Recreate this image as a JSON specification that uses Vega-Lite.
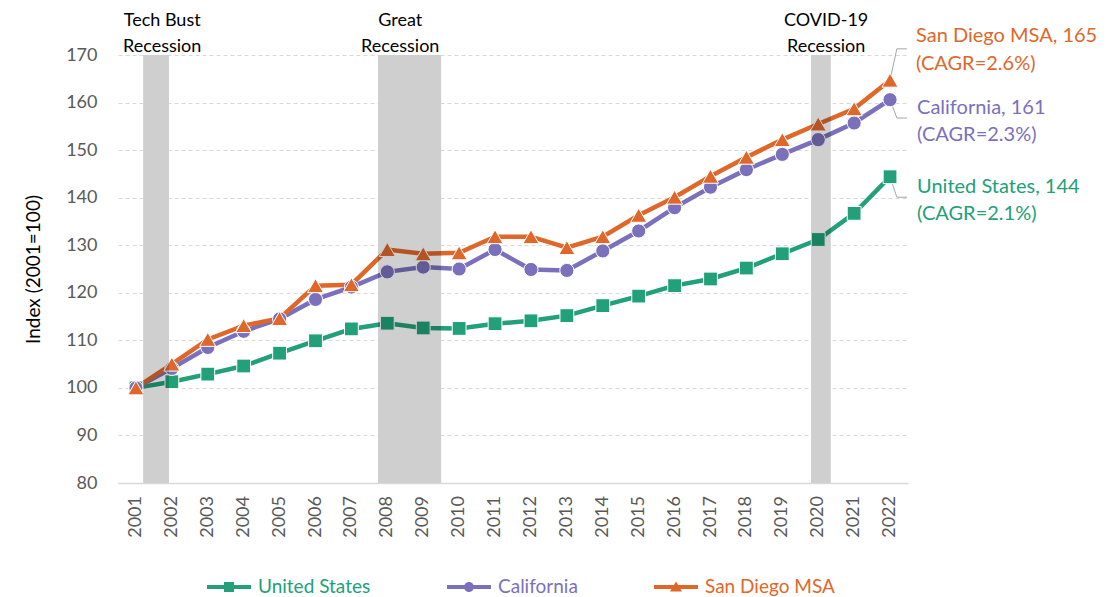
{
  "$schema": "https://vega.github.io/schema/vega-lite/v6.json",
  "width": 790,
  "height": 428,
  "autosize": {"type": "none"},
  "padding": {"left": 118, "top": 55, "right": 199, "bottom": 114},
  "background": "white",
  "config": {
    "font": "Lato",
    "view": {"stroke": null},
    "axis": {"labelFont": "Lato", "titleFont": "Lato"}
  },
  "datasets": {
    "series": [
      {"year": 2001, "region": "United States", "value": 100},
      {"year": 2002, "region": "United States", "value": 101.3},
      {"year": 2003, "region": "United States", "value": 102.9},
      {"year": 2004, "region": "United States", "value": 104.6},
      {"year": 2005, "region": "United States", "value": 107.3},
      {"year": 2006, "region": "United States", "value": 109.9},
      {"year": 2007, "region": "United States", "value": 112.4},
      {"year": 2008, "region": "United States", "value": 113.6},
      {"year": 2009, "region": "United States", "value": 112.6},
      {"year": 2010, "region": "United States", "value": 112.5},
      {"year": 2011, "region": "United States", "value": 113.5},
      {"year": 2012, "region": "United States", "value": 114.1},
      {"year": 2013, "region": "United States", "value": 115.2},
      {"year": 2014, "region": "United States", "value": 117.3},
      {"year": 2015, "region": "United States", "value": 119.3},
      {"year": 2016, "region": "United States", "value": 121.5},
      {"year": 2017, "region": "United States", "value": 122.9},
      {"year": 2018, "region": "United States", "value": 125.2},
      {"year": 2019, "region": "United States", "value": 128.2},
      {"year": 2020, "region": "United States", "value": 131.2},
      {"year": 2021, "region": "United States", "value": 136.7},
      {"year": 2022, "region": "United States", "value": 144.4},
      {"year": 2001, "region": "California", "value": 100},
      {"year": 2002, "region": "California", "value": 104.1},
      {"year": 2003, "region": "California", "value": 108.5},
      {"year": 2004, "region": "California", "value": 111.9},
      {"year": 2005, "region": "California", "value": 114.5},
      {"year": 2006, "region": "California", "value": 118.6},
      {"year": 2007, "region": "California", "value": 121.2},
      {"year": 2008, "region": "California", "value": 124.4},
      {"year": 2009, "region": "California", "value": 125.4},
      {"year": 2010, "region": "California", "value": 125.0},
      {"year": 2011, "region": "California", "value": 129.1},
      {"year": 2012, "region": "California", "value": 124.9},
      {"year": 2013, "region": "California", "value": 124.7},
      {"year": 2014, "region": "California", "value": 128.8},
      {"year": 2015, "region": "California", "value": 133.0},
      {"year": 2016, "region": "California", "value": 137.9},
      {"year": 2017, "region": "California", "value": 142.2},
      {"year": 2018, "region": "California", "value": 145.9},
      {"year": 2019, "region": "California", "value": 149.1},
      {"year": 2020, "region": "California", "value": 152.2},
      {"year": 2021, "region": "California", "value": 155.7},
      {"year": 2022, "region": "California", "value": 160.6},
      {"year": 2001, "region": "San Diego MSA", "value": 100},
      {"year": 2002, "region": "San Diego MSA", "value": 105.0},
      {"year": 2003, "region": "San Diego MSA", "value": 110.2},
      {"year": 2004, "region": "San Diego MSA", "value": 113.1},
      {"year": 2005, "region": "San Diego MSA", "value": 114.6},
      {"year": 2006, "region": "San Diego MSA", "value": 121.5},
      {"year": 2007, "region": "San Diego MSA", "value": 121.7},
      {"year": 2008, "region": "San Diego MSA", "value": 129.1},
      {"year": 2009, "region": "San Diego MSA", "value": 128.2},
      {"year": 2010, "region": "San Diego MSA", "value": 128.4},
      {"year": 2011, "region": "San Diego MSA", "value": 131.8},
      {"year": 2012, "region": "San Diego MSA", "value": 131.8},
      {"year": 2013, "region": "San Diego MSA", "value": 129.5},
      {"year": 2014, "region": "San Diego MSA", "value": 131.8},
      {"year": 2015, "region": "San Diego MSA", "value": 136.3},
      {"year": 2016, "region": "San Diego MSA", "value": 140.1},
      {"year": 2017, "region": "San Diego MSA", "value": 144.5},
      {"year": 2018, "region": "San Diego MSA", "value": 148.5},
      {"year": 2019, "region": "San Diego MSA", "value": 152.2},
      {"year": 2020, "region": "San Diego MSA", "value": 155.5},
      {"year": 2021, "region": "San Diego MSA", "value": 158.7},
      {"year": 2022, "region": "San Diego MSA", "value": 164.7}
    ],
    "recessions": [
      {"name": "Tech Bust", "start": 2001.2, "end": 2001.92, "labelYear": 2001.73, "line1": "Tech Bust", "line2": "Recession"},
      {"name": "Great", "start": 2007.74, "end": 2009.5, "labelYear": 2008.36, "line1": "Great", "line2": "Recession"},
      {"name": "COVID-19", "start": 2019.8, "end": 2020.35, "labelYear": 2020.22, "line1": "COVID-19", "line2": "Recession"}
    ],
    "cagr": [
      {"region": "United States", "cagr": 2.1},
      {"region": "California", "cagr": 2.3},
      {"region": "San Diego MSA", "cagr": 2.6}
    ]
  },
  "layer": [
    {
      "data": {"name": "recessions"},
      "mark": {"type": "rect", "color": "white"},
      "encoding": {
        "x": {"field": "start", "type": "quantitative", "scale": {"domain": [2000.5, 2022.5], "nice": false, "zero": false},
          "axis": {"labels": false, "ticks": false, "grid": false, "domainColor": "#d9d9d9", "domainWidth": 1.5, "title": null}},
        "x2": {"field": "end"},
        "y": {"datum": 80, "type": "quantitative", "scale": {"domain": [80, 170], "nice": false, "zero": false},
          "axis": {"values": [80,90,100,110,120,130,140,150,160,170], "labelFontSize": 18, "labelColor": "#595959", "ticks": false,
            "labelPadding": 21, "domain": false, "grid": true, "gridColor": "#d9d9d9", "gridDash": [4, 3], "gridWidth": 1,
            "title": "Index (2001=100)", "titleFontSize": 19, "titleFontWeight": "normal", "titleColor": "#000000", "titlePadding": 22}},
        "y2": {"datum": 170}
      }
    },
    {
      "data": {"name": "series"},
      "transform": [{"filter": "datum.region === 'United States'"}],
      "mark": {"type": "text", "font": "Lato", "fontSize": 18, "color": "#595959", "angle": 270, "align": "right", "baseline": "middle", "dx": -13},
      "encoding": {
        "x": {"field": "year", "type": "quantitative"},
        "y": {"datum": 80, "type": "quantitative"},
        "text": {"field": "year", "type": "quantitative", "format": "d"}
      }
    },
    {
      "data": {"name": "series"},
      "transform": [{"filter": "datum.year === 2022"}],
      "layer": [
        {"mark": {"type": "rule", "color": "#a6a6a6", "strokeWidth": 1},
         "transform": [{"filter": "datum.region === 'San Diego MSA'"}],
         "encoding": {"x": {"field": "year", "type": "quantitative"}, "y": {"field": "value", "type": "quantitative"},
                      "x2": {"datum": 2022.19}, "y2": {"datum": 171.3}}},
        {"mark": {"type": "rule", "color": "#a6a6a6", "strokeWidth": 1},
         "transform": [{"filter": "datum.region === 'San Diego MSA'"}],
         "encoding": {"x": {"datum": 2022.19, "type": "quantitative"}, "y": {"datum": 171.3, "type": "quantitative"},
                      "x2": {"datum": 2022.47}, "y2": {"datum": 171.3}}},
        {"mark": {"type": "rule", "color": "#a6a6a6", "strokeWidth": 1},
         "transform": [{"filter": "datum.region === 'California'"}],
         "encoding": {"x": {"field": "year", "type": "quantitative"}, "y": {"field": "value", "type": "quantitative"},
                      "x2": {"datum": 2022.19}, "y2": {"datum": 156.75}}},
        {"mark": {"type": "rule", "color": "#a6a6a6", "strokeWidth": 1},
         "transform": [{"filter": "datum.region === 'California'"}],
         "encoding": {"x": {"datum": 2022.19, "type": "quantitative"}, "y": {"datum": 156.75, "type": "quantitative"},
                      "x2": {"datum": 2022.47}, "y2": {"datum": 156.75}}},
        {"mark": {"type": "rule", "color": "#a6a6a6", "strokeWidth": 1},
         "transform": [{"filter": "datum.region === 'United States'"}],
         "encoding": {"x": {"field": "year", "type": "quantitative"}, "y": {"field": "value", "type": "quantitative"},
                      "x2": {"datum": 2022.19}, "y2": {"datum": 140.1}}},
        {"mark": {"type": "rule", "color": "#a6a6a6", "strokeWidth": 1},
         "transform": [{"filter": "datum.region === 'United States'"}],
         "encoding": {"x": {"datum": 2022.19, "type": "quantitative"}, "y": {"datum": 140.1, "type": "quantitative"},
                      "x2": {"datum": 2022.47}, "y2": {"datum": 140.1}}}
      ]
    },
    {
      "data": {"name": "series"},
      "mark": {"type": "line", "strokeWidth": 4.5},
      "encoding": {
        "x": {"field": "year", "type": "quantitative"},
        "y": {"field": "value", "type": "quantitative"},
        "color": {"field": "region", "type": "nominal",
          "scale": {"domain": ["United States", "California", "San Diego MSA"], "range": ["#22a078", "#7b70bb", "#e0672a"]},
          "legend": {"orient": "none", "legendX": 101, "legendY": 522, "direction": "horizontal", "title": null,
            "symbolSize": 400, "labelFontSize": 19, "labelFont": "Lato", "labelOffset": 19, "columnPadding": 76,
            "symbolStrokeWidth": 0,
            "encode": {
              "symbols": {"update": {
                "fill": {"scale": "color", "field": "value"},
                "stroke": {"value": "transparent"},
                "strokeWidth": {"value": 0},
                "shape": {"signal": "datum.value === 'United States' ? 'M-2.2,-0.2H2.2V0.2H-2.2Z M-0.5,-0.5H0.5V0.5H-0.5Z' : datum.value === 'California' ? 'M-2.2,-0.2H2.2V0.2H-2.2Z M0.5,0A0.5,0.5 0 1,1 -0.5,0A0.5,0.5 0 1,1 0.5,0Z' : 'M-2.2,-0.2H2.2V0.2H-2.2Z M0,-0.55L0.6,0.45H-0.6Z'"}
              }},
              "labels": {"update": {"fill": {"scale": "color", "field": "value"}}}
            }}
        },
        "order": {"field": "year"}
      }
    },
    {
      "data": {"name": "series"},
      "transform": [{"filter": "datum.region === 'United States'"}],
      "mark": {"type": "point", "shape": "square", "size": 190, "filled": true, "fill": "#22a078", "stroke": "white", "strokeWidth": 1, "opacity": 1},
      "encoding": {
        "x": {"field": "year", "type": "quantitative"},
        "y": {"field": "value", "type": "quantitative"}
      }
    },
    {
      "data": {"name": "series"},
      "transform": [{"filter": "datum.region === 'California'"}],
      "mark": {"type": "point", "shape": "circle", "size": 200, "filled": true, "fill": "#7b70bb", "stroke": "white", "strokeWidth": 1, "opacity": 1},
      "encoding": {
        "x": {"field": "year", "type": "quantitative"},
        "y": {"field": "value", "type": "quantitative"}
      }
    },
    {
      "data": {"name": "series"},
      "transform": [{"filter": "datum.region === 'San Diego MSA'"}],
      "mark": {"type": "point", "shape": "triangle-up", "size": 260, "filled": true, "fill": "#e0672a", "stroke": "white", "strokeWidth": 1, "opacity": 1},
      "encoding": {
        "x": {"field": "year", "type": "quantitative"},
        "y": {"field": "value", "type": "quantitative"}
      }
    },
    {
      "data": {"name": "recessions"},
      "mark": {"type": "rect", "color": "black", "opacity": 0.19},
      "encoding": {
        "x": {"field": "start", "type": "quantitative"},
        "x2": {"field": "end"},
        "y": {"datum": 80, "type": "quantitative"},
        "y2": {"datum": 170}
      }
    },
    {
      "data": {"name": "recessions"},
      "transform": [{"calculate": "[datum.line1, datum.line2]", "as": "lbl"}],
      "mark": {"type": "text", "font": "Lato", "fontSize": 18, "color": "#000000", "align": "center", "baseline": "alphabetic", "lineHeight": 26, "dy": -29},
      "encoding": {
        "x": {"field": "labelYear", "type": "quantitative"},
        "y": {"datum": 170, "type": "quantitative"},
        "text": {"field": "lbl"}
      }
    },
    {
      "data": {"name": "series"},
      "transform": [
        {"filter": "datum.year === 2022"},
        {"lookup": "region", "from": {"data": {"name": "cagr"}, "key": "region", "fields": ["cagr"]}},
        {"calculate": "[datum.region + ', ' + format(datum.value, '.0f'), '(CAGR=' + format(datum.cagr, '.1f') + '%)']", "as": "lbl"}
      ],
      "encoding": {
        "x": {"field": "year", "type": "quantitative"},
        "y": {"field": "value", "type": "quantitative"},
        "text": {"field": "lbl"},
        "color": {"field": "region", "type": "nominal", "legend": null}
      },
      "layer": [
        {"transform": [{"filter": "datum.region === 'San Diego MSA'"}],
         "mark": {"type": "text", "font": "Lato", "fontSize": 20, "align": "left", "baseline": "alphabetic", "lineHeight": 28, "dx": 26, "dy": -38}},
        {"transform": [{"filter": "datum.region === 'California'"}],
         "mark": {"type": "text", "font": "Lato", "fontSize": 20, "align": "left", "baseline": "alphabetic", "lineHeight": 27, "dx": 27, "dy": 14}},
        {"transform": [{"filter": "datum.region === 'United States'"}],
         "mark": {"type": "text", "font": "Lato", "fontSize": 20, "align": "left", "baseline": "alphabetic", "lineHeight": 27, "dx": 27, "dy": 16}}
      ]
    }
  ]
}
